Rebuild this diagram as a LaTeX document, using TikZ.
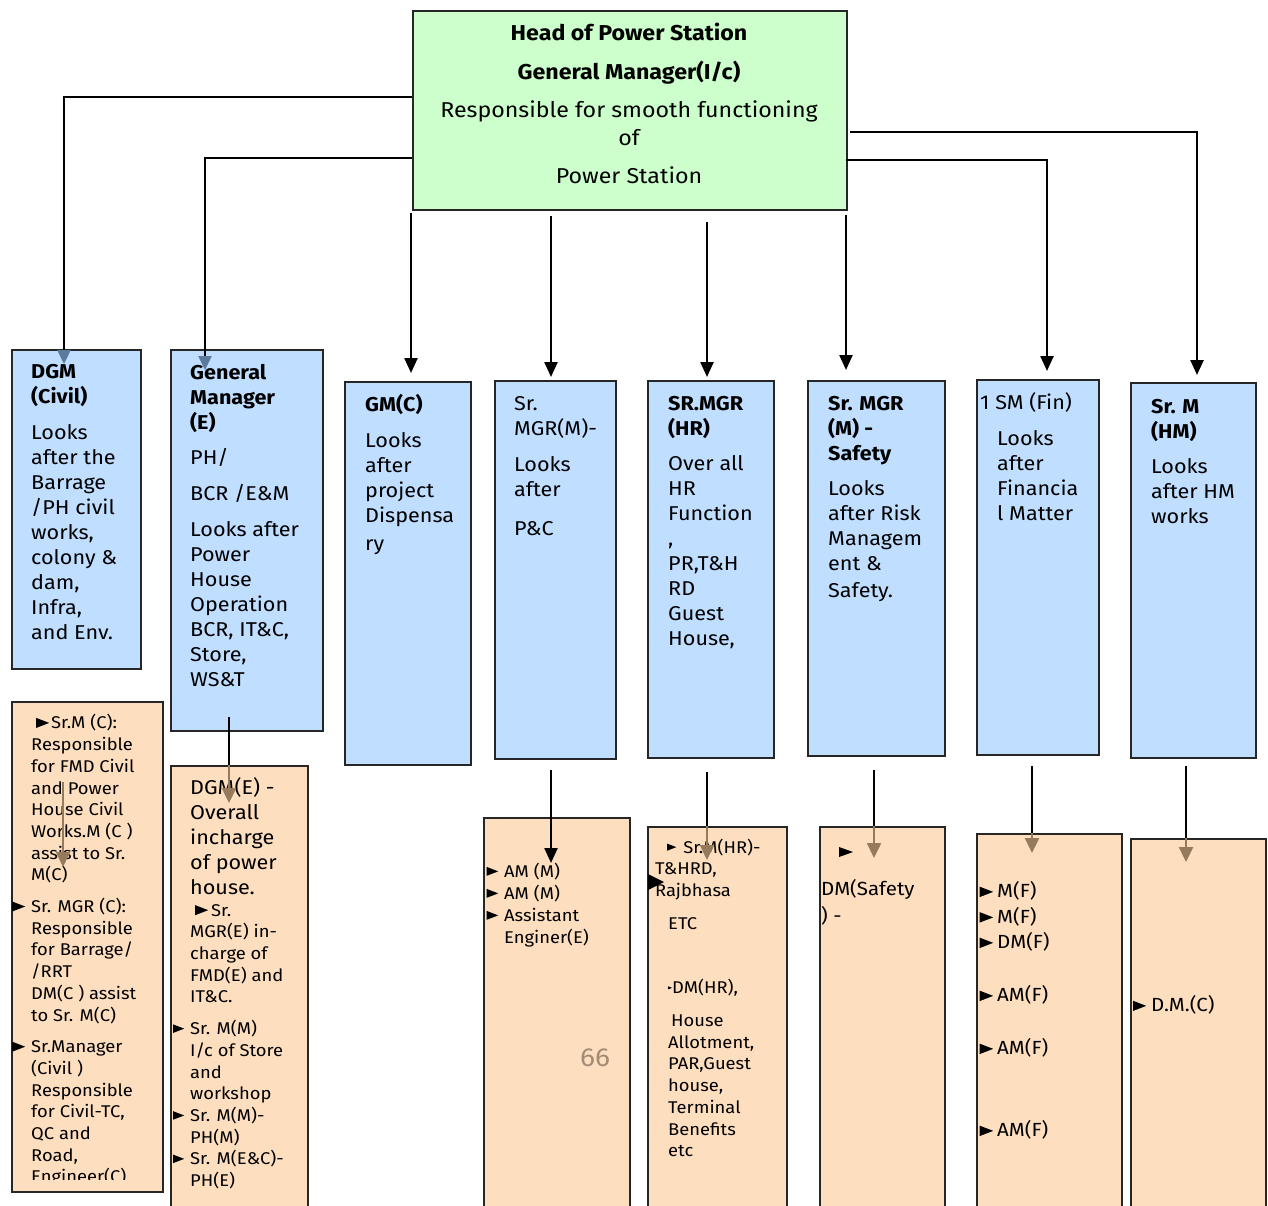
\documentclass[tikz,border=0pt]{standalone}
\usepackage{fontspec}
\setmainfont{Fira Sans}[FakeStretch=1.08]
\usetikzlibrary{arrows.meta}
\definecolor{bluef}{HTML}{C0DEFF}
\definecolor{orangef}{HTML}{FDDEBF}
\definecolor{greenf}{HTML}{CCFFCC}
\definecolor{arrblue}{HTML}{5B7A9C}
\definecolor{arrbrown}{HTML}{957A5C}
\definecolor{numcol}{HTML}{A38B74}
\newcommand\tri[1][1]{\tikz[x=#1pt,y=#1pt,baseline=-6pt]\fill[black] (0,5)--(13,0)--(0,-5)--cycle;}
\begin{document}
\begin{tikzpicture}[x=1pt,y=-1pt,
  box/.style={draw=black!85, line width=1.8pt, inner sep=0pt, anchor=north west},
  bluebox/.style={box, fill=bluef},
  orangebox/.style={box, fill=orangef},
  greenbox/.style={box, fill=greenf},
  txt/.style={anchor=north west, inner sep=0pt, align=left},
  btxt/.style={txt, font=\fontsize{20}{25}\selectfont},
  otxt/.style={txt, font=\fontsize{17}{21.7}\selectfont},
  ftxt/.style={txt, font=\fontsize{19}{25.5}\selectfont},
  conn/.style={line width=2.4pt, draw=black},
  blacktip/.style={-{Triangle[length=15pt,width=13pt]}},
  bluetip/.style={-{Triangle[length=14pt,width=13pt,color=arrblue]}},
  browntip/.style={draw=arrbrown, -{Triangle[length=15pt,width=14pt,color=arrbrown]}},
]
\useasboundingbox (0,0) rectangle (1268,1205);

% top box
\node[greenbox, minimum width=434pt, minimum height=199pt] (head) at (412,10) {};
\node[anchor=north, inner sep=0pt, align=center, font=\fontsize{21.5}{28}\selectfont] (headtxt) at (629,20.6)
 {\strut\textbf{Head of Power Station}\\[11pt] \textbf{General Manager(I/c)}\\[10pt] Responsible for smooth functioning\\ of\\[10pt] Power Station};

% blue boxes
\node[bluebox, minimum width=129pt, minimum height=319pt] (b1) at (11,349) {};
\node[bluebox, minimum width=152pt, minimum height=381pt] (b2) at (170,349) {};
\node[bluebox, minimum width=126pt, minimum height=383pt] (b3) at (344,381) {};
\node[bluebox, minimum width=121pt, minimum height=378pt] (b4) at (494,380) {};
\node[bluebox, minimum width=126pt, minimum height=377pt] (b5) at (647,380) {};
\node[bluebox, minimum width=137pt, minimum height=375pt] (b6) at (807,380) {};
\node[bluebox, minimum width=122pt, minimum height=375pt] (b7) at (976,379) {};
\node[bluebox, minimum width=125pt, minimum height=375pt] (b8) at (1130,382) {};

% orange boxes
\node[orangebox, minimum width=151pt, minimum height=490pt] (o1) at (11,701) {};
\node[orangebox, minimum width=137pt, minimum height=460pt] (o2) at (170,765) {};
\node[orangebox, minimum width=146pt, minimum height=400pt] (o3) at (483,817) {};
\node[orangebox, minimum width=139pt, minimum height=400pt] (o4) at (647,826) {};
\node[orangebox, minimum width=125pt, minimum height=400pt] (o5) at (819,826) {};
\node[orangebox, minimum width=145pt, minimum height=400pt] (o6) at (976,833) {};
\node[orangebox, minimum width=135pt, minimum height=400pt] (o7) at (1130,838) {};

% blue box texts
\node[btxt] (t1) at (31,360.5) {\strut\textbf{DGM}\\ \textbf{(Civil)}\\[11pt] Looks\\ after the\\ Barrage\\ /PH civil\\ works,\\ colony \&\\ dam,\\ Infra,\\ and Env.};
\node[btxt] (t2) at (190,361.5) {\strut\textbf{General}\\ \textbf{Manager}\\ \textbf{(E)}\\[10pt] PH/\\[11pt] BCR /E\&M\\[11pt] Looks after\\ Power\\ House\\ Operation\\ BCR, IT\&C,\\ Store,\\ WS\&T};
\node[btxt] (t3) at (365,393.5) {\strut\textbf{GM(C)}\\[11pt] Looks\\ after\\ project\\ Dispensa\\[3pt] ry};
\node[btxt] (t4) at (514,392.5) {\strut Sr.\\ MGR(M)-\\[11pt] Looks\\ after\\[14pt] P\&C};
\node[btxt] (t5) at (668,392.5) {\strut\textbf{SR.MGR}\\ \textbf{(HR)}\\[10pt] Over all\\ HR\\ Function\\ ,\\ PR,T\&H\\ RD\\ Guest\\ House,};
\node[btxt] (t6) at (828,392.5) {\strut\textbf{Sr. MGR}\\ \textbf{(M) -}\\ \textbf{Safety}\\[10pt] Looks\\ after Risk\\ Managem\\ ent \&\\[2pt] Safety.};
\node[btxt] (t7a) at (980,391.5) {\strut 1 SM (Fin)};
\node[btxt] (t7b) at (997,427.5) {\strut Looks\\ after\\ Financia\\ l Matter};
\node[btxt] (t8) at (1151,395.5) {\strut\textbf{Sr. M}\\ \textbf{(HM)}\\[10pt] Looks\\ after HM\\ works};

% orange box texts
\begin{scope}
\clip (11,701) rectangle (162,1179);
\node[otxt] (u1) at (31,713.5) {\strut\hspace*{5pt}\tri\hspace{2pt}Sr.M (C):\\ Responsible\\ for FMD Civil\\ and Power\\ House Civil\\ Works.M (C )\\ assist to Sr.\\ M(C)\\[10pt] \llap{\tri\hspace{6pt}}Sr. MGR (C):\\ Responsible\\ for Barrage/\\ /RRT\\ DM(C ) assist\\ to Sr. M(C)\\[10pt] \llap{\tri\hspace{6pt}}Sr.Manager\\ (Civil )\\ Responsible\\ for Civil-TC,\\ QC and\\ Road,\\ Engineer(C)};
\end{scope}
\node[btxt] (u2a) at (190,776.5) {\strut DGM(E) -\\ Overall\\ incharge\\ of power\\ house.};
\node[otxt] (u2b) at (190,900.75) {\strut\hspace*{5pt}\tri\hspace{3pt}Sr.\\ MGR(E) in-\\ charge of\\ FMD(E) and\\ IT\&C.\\[10pt] \llap{\tri[0.85]\hspace{6pt}}Sr. M(M)\\ I/c of Store\\ and\\ workshop\\ \llap{\tri[0.85]\hspace{6pt}}Sr. M(M)-\\ PH(M)\\ \llap{\tri[0.85]\hspace{6pt}}Sr. M(E\&C)-\\ PH(E)};
\node[otxt, font=\fontsize{17}{22}\selectfont] (u3) at (504,861.75) {\strut\llap{\tri[0.9]\hspace{6pt}}AM (M)\\ \llap{\tri[0.9]\hspace{6pt}}AM (M)\\ \llap{\tri[0.9]\hspace{6pt}}Assistant\\ Enginer(E)};
\node[inner sep=0pt, text=numcol, font=\fontsize{26}{26}\selectfont] (n66) at (595,1058) {66};
\node[otxt] (u4a) at (655,837.75) {\strut\hspace*{12pt}\tri[0.7]\hspace{7pt}Sr.M(HR)-\\ T\&HRD,\\ Rajbhasa};
\node[otxt] (u4b) at (668,913.75) {\strut ETC\\[43pt] \tri[0.3]DM(HR),\\[11pt] \hspace*{3pt}House\\ Allotment,\\ PAR,Guest\\ house,\\ Terminal\\ Benefits\\ etc};
\fill (648,874) -- (664,882) -- (648,890) -- cycle;
\fill (839,847) -- (853,852) -- (839,857) -- cycle;
\node[txt, font=\fontsize{19}{27}\selectfont] (u5) at (821,876.75) {\strut DM(Safety\\ ) -};
\node[ftxt] (u6) at (997,879.8) {\strut\llap{\tri[1.05]\hspace{4pt}}M(F)\\ \llap{\tri[1.05]\hspace{4pt}}M(F)\\ \llap{\tri[1.05]\hspace{4pt}}DM(F)\\[27.5pt] \llap{\tri[1.05]\hspace{4pt}}AM(F)\\[27.5pt] \llap{\tri[1.05]\hspace{4pt}}AM(F)\\[56.5pt] \llap{\tri[1.05]\hspace{4pt}}AM(F)};
\node[ftxt] (u7) at (1151,993.8) {\strut\llap{\tri\hspace{5pt}}D.M.(C)};

% connector points
\coordinate (h1) at (412,97);  \coordinate (k1) at (64,97);   \coordinate (e1) at (64,364);
\coordinate (h2) at (412,158); \coordinate (k2) at (205,158); \coordinate (e2) at (205,370);
\coordinate (h3) at (411,213); \coordinate (e3) at (411,373);
\coordinate (h4) at (551,216); \coordinate (e4) at (551,377);
\coordinate (h5) at (707,222); \coordinate (e5) at (707,377);
\coordinate (h6) at (846,215); \coordinate (e6) at (846,370);
\coordinate (h7) at (850,132); \coordinate (k7) at (1197,132); \coordinate (e7) at (1197,375);
\coordinate (h8) at (846,160); \coordinate (k8) at (1047,160); \coordinate (e8) at (1047,371);

\draw[conn, bluetip] (h1) -- (k1) -- (e1);
\draw[conn, bluetip] (h2) -- (k2) -- (e2);
\draw[conn, blacktip] (h3) -- (e3);
\draw[conn, blacktip] (h4) -- (e4);
\draw[conn, blacktip] (h5) -- (e5);
\draw[conn, blacktip] (h6) -- (e6);
\draw[conn, blacktip] (h7) -- (k7) -- (e7);
\draw[conn, blacktip] (h8) -- (k8) -- (e8);

% lower connectors
\coordinate (s2) at (229,717); \coordinate (m2) at (229,765); \coordinate (f2) at (229,803);
\coordinate (s1) at (63,782);  \coordinate (f1) at (63,867);
\coordinate (s4) at (551,770); \coordinate (f4) at (551,863);
\coordinate (s5) at (707,772); \coordinate (m5) at (707,826); \coordinate (f5) at (707,860);
\coordinate (s6) at (874,770); \coordinate (m6) at (874,826); \coordinate (f6) at (874,858);
\coordinate (s7) at (1032,766); \coordinate (m7) at (1032,833); \coordinate (f7) at (1032,853);
\coordinate (s8) at (1186,766); \coordinate (m8) at (1186,838); \coordinate (f8) at (1186,862);

\draw[conn] (s2) -- (m2);
\draw[conn, browntip] (m2) -- (f2);
\draw[line width=1.4pt, browntip] (s1) -- (f1);
\draw[conn, blacktip] (s4) -- (f4);
\draw[conn] (s5) -- (m5);
\draw[conn, browntip] (m5) -- (f5);
\draw[conn] (s6) -- (m6);
\draw[conn, browntip] (m6) -- (f6);
\draw[conn] (s7) -- (m7);
\draw[conn, browntip] (m7) -- (f7);
\draw[conn] (s8) -- (m8);
\draw[conn, browntip] (m8) -- (f8);
\end{tikzpicture}
\end{document}
